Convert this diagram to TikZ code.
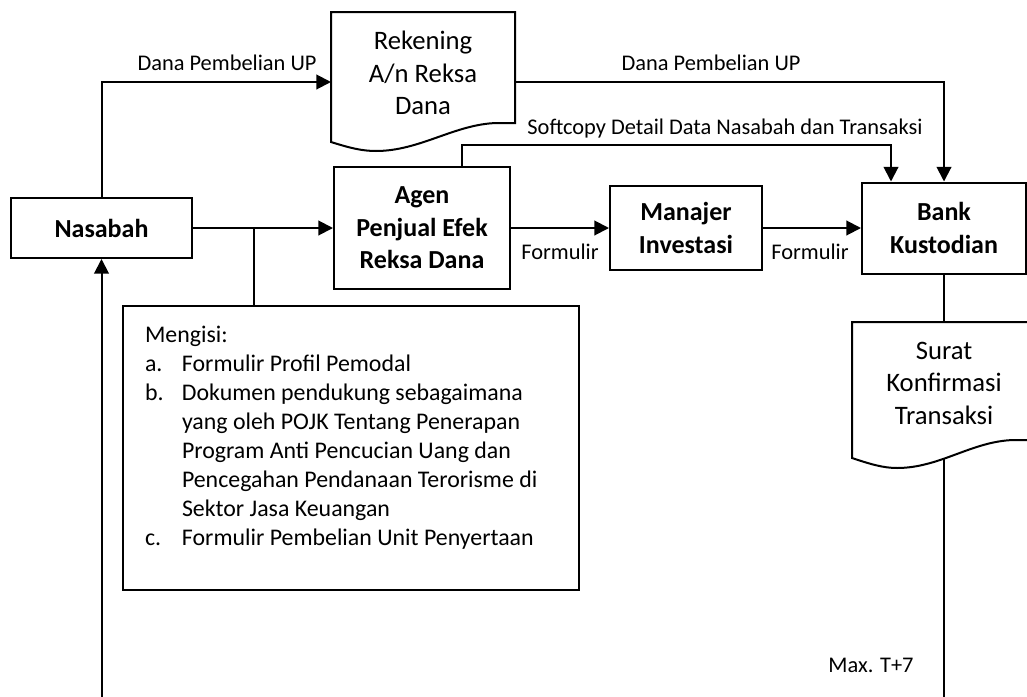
\documentclass[tikz,border=0pt]{standalone}
\usepackage{fontspec}
\setmainfont{Carlito}
\usetikzlibrary{arrows.meta,positioning}

\tikzset{every picture/.style={line width=1.5pt}}
\tikzset{
	kotak/.style={draw, rectangle, align=center, inner sep=0pt, font=\fontsize{19.5}{24.4}\selectfont\bfseries},
	doktext/.style={align=center, inner sep=0pt, font=\fontsize{20}{24.4}\selectfont},
	ket/.style={inner sep=0.75pt, font=\fontsize{16.8}{20}\selectfont},
	panah/.style={-{Triangle[length=11pt,width=11pt]}},
}

\begin{document}
\begin{tikzpicture}[x=0.75pt,y=0.75pt,yscale=-1,xscale=1]
				\clip (0,0) rectangle (1027,696);
				%Shape: Rectangle [Nasabah]
				\node[kotak, minimum width=135.75pt, minimum height=45pt] (nas) at (101.5,228) {Nasabah};
				%Shape: Rectangle [Agen]
				\node[kotak, minimum width=132pt, minimum height=91.5pt] (agen) at (422,228) {Agen\\Penjual Efek\\Reksa Dana};
				%Shape: Rectangle [Manajer]
				\node[kotak, minimum width=114pt, minimum height=63pt] (man) at (686,228) {Manajer\\Investasi};
				%Shape: Rectangle [Bank]
				\node[kotak, minimum width=123pt, minimum height=68.25pt] (bank) at (944,228) {Bank\\Kustodian};
				%Shape: Rectangle [Mengisi]
				\node[draw, minimum width=342pt, minimum height=213pt] (isi) at (351,448) {};
				%Shape: Document [Rekening]
				\draw (331,12) -- (515,12) -- (515,123) -- (497,123) .. controls (455,124) and (420,151) .. (376,151) .. controls (362,151) and (350,148) .. (331,142) -- cycle ;
				%Shape: Document [Surat]
				\draw (852,322) -- (1036,322) -- (1036,440) -- (1014,440) .. controls (972,441) and (940,468) .. (897,468) .. controls (883,468) and (870,464) .. (852,458) -- cycle ;
				
				% Text Node
				\node[doktext] (rek) at (423,73) {Rekening\\A/n Reksa\\Dana};
				% Text Node
				\node[doktext] (surat) at (944,383) {Surat\\Konfirmasi\\Transaksi};
				% Text Node
				\node[anchor=north west, inner sep=0pt, font=\fontsize{17.9}{21.75}\selectfont] (isitext) at (144,321) {%
					\begin{tabular}{@{}p{27.75pt}@{}l@{}}
						\multicolumn{2}{@{}l@{}}{Mengisi:}\\
						a. & Formulir Profil Pemodal\\
						b. & Dokumen pendukung sebagaimana\\
						& yang oleh POJK Tentang Penerapan\\
						& Program Anti Pencucian Uang dan\\
						& Pencegahan Pendanaan Terorisme di\\
						& Sektor Jasa Keuangan\\
						c. & Formulir Pembelian Unit Penyertaan
					\end{tabular}};
				% Text Node
				\node[ket] (dana1) at (227,63) {Dana Pembelian UP};
				% Text Node
				\node[ket] (dana2) at (711,63) {Dana Pembelian UP};
				% Text Node
				\node[ket] (soft) at (725,129) {Softcopy Detail Data Nasabah dan Transaksi};
				% Text Node
				\node[ket] (form1) at (560,252) {Formulir};
				% Text Node
				\node[ket] (form2) at (810,252) {Formulir};
				% Text Node
				\node[ket] (maks) at (871,665) {Max. T+7};
				
				% titik bantu
				\coordinate (rekW) at (331,82);
				\coordinate (rekE) at (515,82);
				\coordinate (cab) at (254,228);
				\coordinate (sc1) at (462,167);
				\coordinate (sc2) at (891,145);
				\coordinate (suratN) at (944,322);
				\coordinate (suratS) at (944,459);
				\coordinate (bawah1) at (101.5,700);
				\coordinate (bawah2) at (944,700);
				
				% Connectors
				\draw[panah] (bawah1) -- (nas.south);
				\draw[panah] (nas.north) |- (rekW);
				\draw[panah] (rekE) -| (bank.north);
				\draw[panah] (nas.east) -- (agen.west);
				\draw (cab) -- (cab |- isi.north);
				\draw[panah] (agen.east) -- (man.west);
				\draw[panah] (man.east) -- (bank.west);
				\draw[panah] (sc1) |- (sc2) -- (sc2 |- bank.north);
				\draw (bank.south) -- (suratN);
				\draw (suratS) -- (bawah2);
\end{tikzpicture}
\end{document}
